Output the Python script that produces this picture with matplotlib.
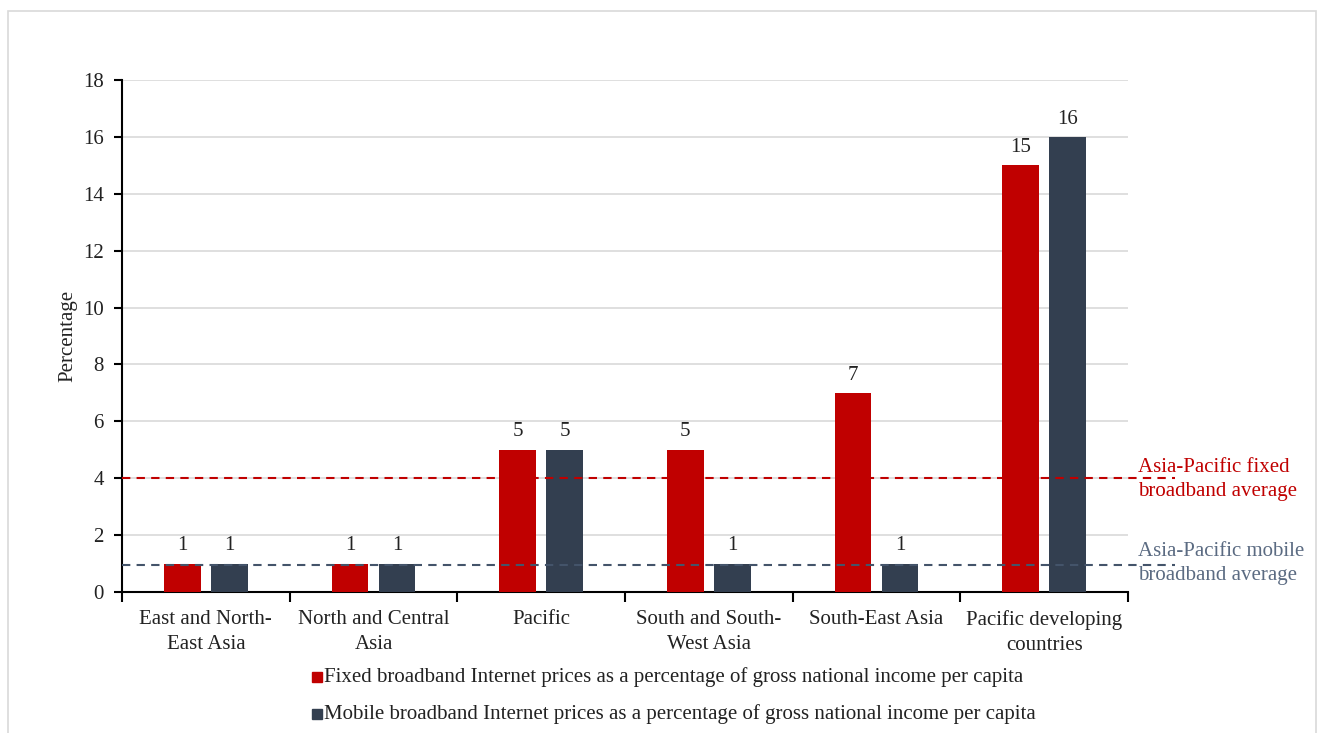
import matplotlib
matplotlib.use("Agg")
import matplotlib.pyplot as plt
from matplotlib.patches import Rectangle
import numpy as np

plt.rcParams['font.family'] = ['Liberation Serif', 'DejaVu Serif']

categories = ["East and North-\nEast Asia", "North and Central\nAsia", "Pacific",
              "South and South-\nWest Asia", "South-East Asia", "Pacific developing\ncountries"]
fixed = [1, 1, 5, 5, 7, 15]
mobile = [1, 1, 5, 1, 1, 16]
fixed_avg = 4.0
mobile_avg = 0.95
yticks = [0, 2, 4, 6, 8, 10, 12, 14, 16, 18]

fixed_label = "Fixed broadband Internet prices as a percentage of gross national income per capita"
mobile_label = "Mobile broadband Internet prices as a percentage of gross national income per capita"

RED = "#C00000"
DARK = "#333F50"
SLATE = "#44546A"
TXT = "#222222"
FS = 15

W, H = 1323, 733
fig = plt.figure(figsize=(W / 100, H / 100), dpi=100)
fig.patches.append(Rectangle((8 / W, -0.05), (1316 - 8) / W, 1.05 - 11 / H,
                             transform=fig.transFigure, fill=False,
                             edgecolor="#D9D9D9", linewidth=1.2))

ax = fig.add_axes([122 / W, (H - 592) / H, (1128 - 122) / W, (592 - 80) / H])
x = np.arange(len(categories))
bw = 0.22
off = 0.14
b1 = ax.bar(x - off, fixed, bw, color=RED, zorder=3)
b2 = ax.bar(x + off, mobile, bw, color=DARK, zorder=3)

for bars, vals in ((b1, fixed), (b2, mobile)):
    for rect, v in zip(bars, vals):
        ax.annotate(f"{v}", (rect.get_x() + rect.get_width() / 2, v),
                    xytext=(0, 6), textcoords="offset points",
                    ha="center", va="bottom", fontsize=FS, color=TXT)

ax.set_xlim(-0.5, len(categories) - 0.5)
ax.set_ylim(0, 18)
ax.set_yticks(yticks)
ax.tick_params(axis="y", labelsize=FS, length=6, width=1.5, direction="out", pad=7,
               labelcolor=TXT)
ax.yaxis.grid(True, color="#D9D9D9", linewidth=1.2, zorder=0)
ax.set_axisbelow(True)

ax.set_xticks(np.arange(-0.5, len(categories), 1.0))
ax.set_xticklabels([])
ax.set_xticks(x, minor=True)
ax.set_xticklabels(categories, minor=True, fontsize=FS, color=TXT, linespacing=1.4)
ax.tick_params(axis="x", which="major", length=7, width=1.5, direction="out")
ax.tick_params(axis="x", which="minor", length=0, pad=13)

for s in ("top", "right"):
    ax.spines[s].set_visible(False)
for s in ("left", "bottom"):
    ax.spines[s].set_linewidth(1.5)
    ax.spines[s].set_color("#000000")

ax.set_ylabel("Percentage", fontsize=FS, labelpad=4, color=TXT)

# regional averages, extending past the plot edge toward their labels
xend = len(categories) - 0.5 + 47 / 167.7
ax.plot([-0.5, xend], [fixed_avg, fixed_avg], color=RED, linestyle=(0, (4, 3)),
        linewidth=1.5, clip_on=False, zorder=4)
ax.plot([-0.5, xend], [mobile_avg, mobile_avg], color=SLATE, linestyle=(0, (4, 3)),
        linewidth=1.5, clip_on=False, zorder=4)
ax.text(xend - 0.22, fixed_avg - 0.05, "Asia-Pacific fixed\nbroadband average",
        color=RED, fontsize=FS, ha="left", va="center", linespacing=1.4)
ax.text(xend - 0.22, mobile_avg + 0.05, "Asia-Pacific mobile\nbroadband average",
        color="#5B6B82", fontsize=FS, ha="left", va="center", linespacing=1.4)

# legend entries
for i, (lab, col) in enumerate(((fixed_label, RED), (mobile_label, DARK))):
    yy = 1 - (677 + 37 * i) / H
    fig.patches.append(Rectangle((312 / W, yy - 5 / H), 10 / W, 10 / H,
                                 transform=fig.transFigure, color=col))
    fig.text(324 / W, yy, lab, fontsize=FS, va="center", ha="left", color=TXT)

fig.savefig("out.png", dpi=100)
